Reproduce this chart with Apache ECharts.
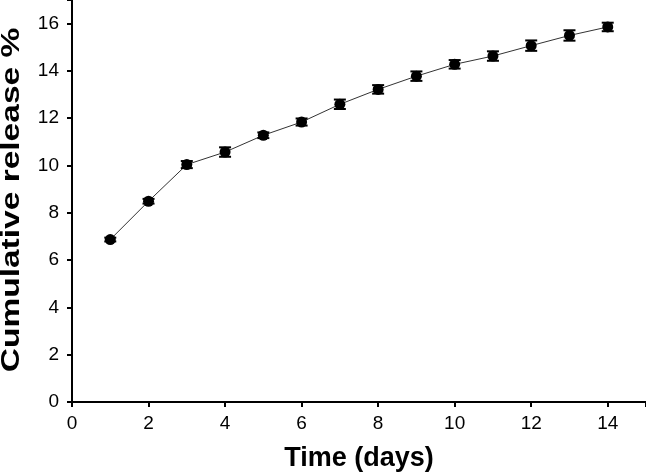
<!DOCTYPE html>
<html>
<head>
<meta charset="utf-8">
<script src="https://cdn.jsdelivr.net/npm/echarts@6/dist/echarts.min.js"></script>
<style>
html,body{margin:0;padding:0;background:#fff;}
#chart{width:646px;height:475px;}
</style>
</head>
<body>
<div id="chart"></div>
<script>
const days = [1, 2, 3, 4, 5, 6, 7, 8, 9, 10, 11, 12, 13, 14];
const release = [6.87, 8.49, 10.04, 10.57, 11.28, 11.84, 12.59, 13.22, 13.78, 14.28, 14.63, 15.07, 15.5, 15.86];
const errors = [0.08, 0.1, 0.15, 0.2, 0.12, 0.15, 0.2, 0.18, 0.2, 0.18, 0.2, 0.22, 0.22, 0.18];
const xTicks = [0, 2, 4, 6, 8, 10, 12, 14];
const yTicks = [0, 2, 4, 6, 8, 10, 12, 14, 16];
const xTitle = 'Time (days)';
const yTitle = 'Cumulative release %';

const points = days.map((d, i) => [d, release[i]]);
const bars = days.map((d, i) => [d, release[i] - errors[i], release[i] + errors[i]]);

const chart = echarts.init(document.getElementById('chart'), null, {renderer: 'canvas'});
const font = 'Liberation Sans, Arial, sans-serif';
chart.setOption({
  animation: false,
  backgroundColor: '#fff',
  grid: {left: 72, right: 0, top: 0, bottom: 73, containLabel: false, outerBoundsMode: 'none'},
  graphic: [{
    type: 'text',
    x: 12,
    y: 200,
    rotation: Math.PI / 2,
    scaleX: 1.34,
    style: {
      text: yTitle,
      fontFamily: font,
      fontWeight: 'bold',
      fontSize: 25,
      fill: '#000',
      align: 'center',
      verticalAlign: 'middle'
    }
  }],
  xAxis: {
    type: 'value', min: 0, max: 15, interval: 2,
    name: xTitle, nameLocation: 'middle', nameGap: 43,
    nameTextStyle: {fontFamily: font, fontWeight: 'bold', fontSize: 27, color: '#000'},
    axisLine: {show: true, lineStyle: {color: '#000', width: 2}},
    axisTick: {show: true, length: 5, lineStyle: {color: '#000', width: 2}},
    axisLabel: {
      fontFamily: font, fontSize: 19, color: '#000', margin: 12,
      formatter: v => xTicks.includes(v) ? String(v) : ''
    },
    splitLine: {show: false}
  },
  yAxis: {
    type: 'value', min: 0, max: 17, interval: 2,
    axisLine: {show: true, lineStyle: {color: '#000', width: 2}},
    axisTick: {show: true, length: 5, lineStyle: {color: '#000', width: 2}},
    axisLabel: {
      fontFamily: font, fontSize: 19, color: '#000', margin: 13,
      formatter: v => yTicks.includes(v) ? String(v) : ''
    },
    splitLine: {show: false}
  },
  series: [
    {
      type: 'line',
      data: points,
      symbol: 'circle',
      symbolSize: 11,
      itemStyle: {color: '#000'},
      lineStyle: {color: '#333', width: 1},
      z: 3
    },
    {
      type: 'custom',
      data: bars,
      z: 4,
      renderItem: function (params, api) {
        const x = api.value(0);
        const lo = api.coord([x, api.value(1)]);
        const hi = api.coord([x, api.value(2)]);
        const cap = 6;
        const style = {stroke: '#000', lineWidth: 2};
        return {
          type: 'group',
          children: [
            {type: 'line', shape: {x1: lo[0], y1: lo[1], x2: hi[0], y2: hi[1]}, style: style},
            {type: 'line', shape: {x1: lo[0] - cap, y1: lo[1], x2: lo[0] + cap, y2: lo[1]}, style: style},
            {type: 'line', shape: {x1: hi[0] - cap, y1: hi[1], x2: hi[0] + cap, y2: hi[1]}, style: style}
          ]
        };
      }
    }
  ]
});
</script>
</body>
</html>
